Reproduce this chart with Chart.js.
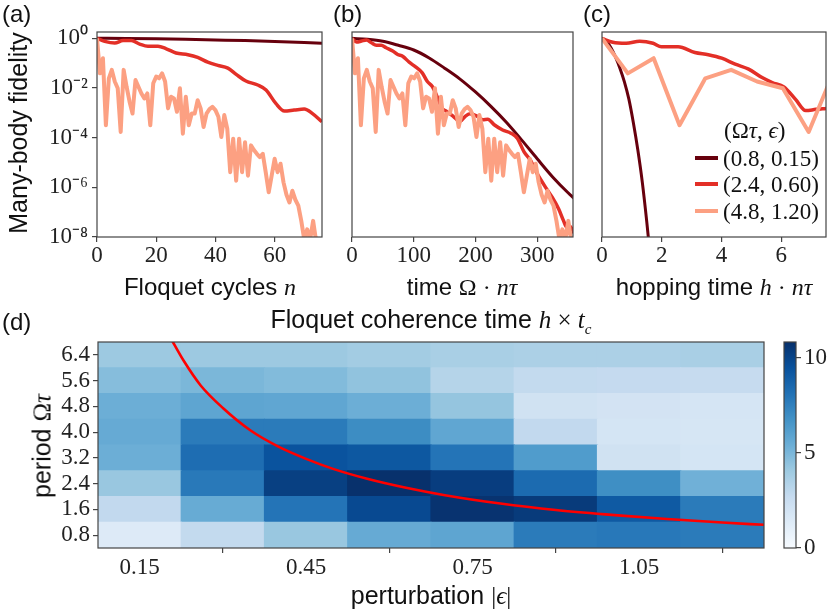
<!DOCTYPE html>
<html>
<head>
<meta charset="utf-8">
<script src="https://cdn.jsdelivr.net/npm/chart.js@4.4.0/dist/chart.umd.min.js"></script>
<style>
  body { margin: 0; background: #fff; }
  #fig { position: relative; width: 830px; height: 612px; overflow: hidden;
         font-family: "Liberation Sans", Arial, sans-serif; color: #111; }
  canvas { position: absolute; }
  .t { position: absolute; white-space: nowrap; font-size: 24px; line-height: 1;
       transform: translate(-50%, -50%); }
  .big { font-size: 25px; }
  .rot { transform: translate(-50%, -50%) rotate(-90deg); }
  .m { font-family: "Liberation Serif", serif; font-style: italic; }
  .u { font-family: "Liberation Serif", serif; }
  .lab { position: absolute; font-size: 24px; line-height: 1; }
  .leg { position: absolute; font-family: "Liberation Serif", serif; font-size: 23px;
         line-height: 1; white-space: nowrap; transform: translateY(-50%); }
  .sw { position: absolute; width: 23px; height: 4px; transform: translateY(-50%); }
</style>
</head>
<body>
<div id="fig">
  <canvas id="pa" width="330" height="275" style="left:0;top:0"></canvas>
  <canvas id="pb" width="240" height="275" style="left:340px;top:0"></canvas>
  <canvas id="pc" width="240" height="275" style="left:590px;top:0"></canvas>
  <canvas id="pd" width="780" height="312" style="left:0;top:300px"></canvas>
  <canvas id="cb" width="60" height="312" style="left:770px;top:300px"></canvas>

  <div class="lab" style="left:2px;top:2px">(a)</div>
  <div class="lab" style="left:333px;top:2px">(b)</div>
  <div class="lab" style="left:583px;top:2px">(c)</div>
  <div class="lab" style="left:2px;top:310px">(d)</div>

  <div class="t rot" style="left:18px;top:133px;font-size:25px">Many-body fidelity</div>
  <div class="t" style="left:210px;top:287px">Floquet cycles <span class="m">n</span></div>
  <div class="t" style="left:462px;top:287px">time <span class="u">Ω · </span><span class="m">nτ</span></div>
  <div class="t" style="left:714px;top:287px">hopping time <span class="m">h</span><span class="u"> · </span><span class="m">nτ</span></div>

  <div class="t big" style="left:431px;top:322px">Floquet coherence time <span class="m">h</span><span class="u"> × </span><span class="m">t<sub style="font-size:15px">c</sub></span></div>
  <div class="t big" style="left:431px;top:595px">perturbation <span class="u">|</span><span class="m">ϵ</span><span class="u">|</span></div>
  <div class="t big rot" style="left:42px;top:446px">period <span class="u">Ω</span><span class="m">τ</span></div>

  <div class="leg" style="left:724px;top:130px">(Ω<span class="m">τ</span>, <span class="m">ϵ</span>)</div>
  <div class="sw" style="left:695px;top:158px;background:#67000d"></div>
  <div class="leg" style="left:723px;top:158px">(0.8, 0.15)</div>
  <div class="sw" style="left:695px;top:184px;background:#e32f27"></div>
  <div class="leg" style="left:723px;top:184px">(2.4, 0.60)</div>
  <div class="sw" style="left:695px;top:211px;background:#fca082"></div>
  <div class="leg" style="left:723px;top:211px">(4.8, 1.20)</div>
</div>
<script>
// ---- panel data (log10 of the many-body fidelity) ----
const cycles = [];
for (let n = 0; n <= 75; n++) cycles.push(n);
// (4.8, 1.20): one value per Floquet cycle, same data in (a), (b), (c)
const pinkLog = [0, -1.41, -0.80, -3.50, -1.61, -1.27, -1.74, -2.01, -3.77, -1.27,
  -1.95, -2.55, -3.03, -1.68, -1.95, -2.22, -2.42, -2.22, -3.50, -1.81,
  -1.54, -1.61, -1.41, -1.74, -2.82, -2.35, -2.42, -2.96, -2.01, -3.84,
  -2.35, -3.50, -3.03, -3.03, -2.49, -2.82, -3.57, -3.03, -2.85, -2.76,
  -2.89, -3.16, -3.97, -3.09, -3.64, -5.39, -4.04, -5.73, -4.04, -5.39,
  -4.18, -5.53, -4.31, -4.50, -4.65, -4.78, -4.65, -5.40, -6.20, -5.53,
  -4.85, -5.39, -5.05, -5.80, -6.30, -6.61, -6.14, -6.50, -6.74, -7.35,
  -8.10, -7.69, -8.10, -7.35, -8.16, -8.03];
const pinkTimePerCycle = 4.8;   // Omega tau
const pinkHopPerCycle = 0.865;  // h tau

// (a) vs Floquet cycles n
const darkA = [[0, 0], [10, -0.005], [20, -0.02], [30, -0.04], [40, -0.065], [50, -0.09], [60, -0.125], [70, -0.165], [76, -0.195]];
const redA = [[0, 0], [2.6, -0.12], [6, -0.19], [8.8, -0.09], [11.6, -0.09], [14.4, -0.23], [17.2, -0.32], [20.6, -0.32],
  [23.4, -0.42], [26.7, -0.59], [30.7, -0.66], [34, -0.77], [37.4, -0.96], [40.8, -1.09], [44.2, -1.20], [47, -1.45],
  [50.3, -1.72], [54.3, -1.88], [57.1, -2.08], [60.4, -2.62], [63.3, -2.93], [66.6, -2.89], [70, -2.85], [72.8, -3.03], [76, -3.36]];

// (b) vs time Omega n tau
const darkB = [[0, 0], [25, -0.04], [50, -0.12], [75, -0.28], [100, -0.47], [125, -0.79], [150, -1.2], [175, -1.64],
  [200, -2.16], [225, -2.74], [250, -3.38], [275, -4.1], [300, -4.85], [325, -5.58], [350, -6.22], [360, -6.45]];
const redB = [[0, 0], [7.4, -0.15], [15.4, -0.11], [23.4, -0.07], [31.4, -0.18], [39.4, -0.28], [47.3, -0.28], [55.3, -0.38],
  [66, -0.51], [74, -0.65], [82, -0.72], [92.6, -0.96], [103, -1.15], [113.8, -1.39], [121.8, -1.73], [129.8, -1.93],
  [137.8, -2.34], [145.7, -2.81], [153.7, -2.95], [164.4, -3.15], [175, -3.35], [183, -3.15], [190.9, -3.04], [201.6, -3.12],
  [212, -3.28], [220, -3.26], [230.9, -3.49], [244, -3.69], [257.4, -3.82], [268, -4.03], [278.7, -4.57], [289, -4.91],
  [300, -5.45], [313.3, -5.99], [324, -6.39], [334.6, -6.86], [342.6, -7.34], [348, -7.61], [353, -7.58], [360, -7.85]];

// (c) vs hopping time h n tau
const darkC = [[0, 0], [0.15, -0.12], [0.3, -0.38], [0.45, -0.75], [0.6, -1.2], [0.75, -1.75], [0.9, -2.45],
  [1.05, -3.4], [1.2, -4.5], [1.35, -5.8], [1.5, -7.4], [1.6, -8.6]];
const redC = [[0, 0], [0.36, -0.16], [0.81, -0.20], [1.26, -0.12], [1.71, -0.20], [1.99, -0.34], [2.55, -0.34],
  [3.11, -0.57], [3.56, -0.66], [4.01, -0.80], [4.46, -1.04], [4.91, -1.24], [5.36, -1.58], [5.70, -1.78],
  [6.09, -1.96], [6.48, -2.46], [6.82, -2.91], [7.16, -2.86], [7.5, -2.82]];

const decades = [1e-8, 1e-6, 1e-4, 1e-2, 1];
const supers = { '0': '⁰', '2': '²', '4': '⁴', '6': '⁶', '8': '⁸', '-': '⁻' };

// ---- panel (d) data ----
const epsilons = [0.15, 0.30, 0.45, 0.60, 0.75, 0.90, 1.05, 1.20];
const periods = [0.8, 1.6, 2.4, 3.2, 4.0, 4.8, 5.6, 6.4];
// h x t_c, one row per period (bottom row first)
const coherence = [
  [1.4, 2.8, 4.2, 5.6, 5.85, 7.7, 7.85, 7.7],
  [2.85, 5.55, 8.0, 9.8, 10.7, 10.4, 9.1, 7.7],
  [4.2, 7.8, 10.2, 10.8, 10.3, 8.4, 6.9, 5.3],
  [5.4, 8.3, 9.4, 9.2, 8.0, 6.3, 2.15, 1.9],
  [5.6, 7.7, 7.7, 7.0, 5.8, 2.85, 1.9, 1.8],
  [5.4, 5.85, 5.8, 5.4, 4.3, 2.15, 2.0, 1.85],
  [4.7, 5.0, 4.8, 4.4, 3.3, 2.8, 2.75, 2.7],
  [4.1, 4.1, 4.1, 3.9, 3.7, 3.6, 3.6, 3.7]
];
const cMax = 10.84;
const epsTicks = [0.15, 0.45, 0.75, 1.05];
const cbTicks = [0, 5, 10];
// red boundary curve
const curveEps = [0.205, 0.23, 0.26, 0.30, 0.35, 0.40, 0.45, 0.50, 0.56, 0.63, 0.70, 0.80, 0.90, 1.00, 1.10, 1.20, 1.275];
const curveOmega = [6.95, 6.2, 5.45, 4.75, 4.05, 3.55, 3.17, 2.85, 2.55, 2.27, 2.04, 1.78, 1.58, 1.43, 1.30, 1.19, 1.12];

const DARK = '#67000d', RED = '#e32f27', PINK = '#fca082', AXIS = '#444';
const bluesStops = ['#f7fbff', '#deebf7', '#c6dbef', '#9ecae1', '#6baed6', '#4292c6', '#2171b5', '#08519c', '#08306b'];

function hex(h) { return [1, 3, 5].map(i => parseInt(h.slice(i, i + 2), 16)); }
function blues(f) {
  f = Math.max(0, Math.min(1, f));
  const s = f * 8, i = Math.min(7, Math.floor(s)), t = s - i;
  const a = hex(bluesStops[i]), b = hex(bluesStops[i + 1]);
  const c = a.map((v, k) => Math.round(v + (b[k] - v) * t));
  return `rgb(${c[0]},${c[1]},${c[2]})`;
}

const frame = {
  id: 'frame',
  afterDatasetsDraw(chart) {
    const { ctx, chartArea: a } = chart;
    ctx.save();
    ctx.strokeStyle = AXIS;
    ctx.lineWidth = 1.2;
    ctx.strokeRect(a.left, a.top, a.right - a.left, a.bottom - a.top);
    ctx.restore();
  }
};

const tickFont = { family: 'Liberation Serif', size: 23 };
const tickGrid = { drawOnChartArea: false, drawTicks: true, tickLength: 5, color: AXIS, lineWidth: 1.2 };

function line(points, color, width, order, smooth) {
  return {
    data: points.map(([x, l]) => ({ x, y: Math.pow(10, l) })),
    borderColor: color, borderWidth: width, pointRadius: 0, clip: 0, order,
    borderJoinStyle: 'round', cubicInterpolationMode: smooth ? 'monotone' : 'default', tension: 0
  };
}

function panel(id, xMax, xTicks, datasets, yLabels, leftW, rightPad) {
  new Chart(document.getElementById(id), {
    type: 'line',
    data: { datasets },
    options: {
      responsive: false, animation: false, devicePixelRatio: 1,
      layout: { padding: { top: 32, right: rightPad, left: 0, bottom: 0 } },
      plugins: { legend: { display: false }, tooltip: { enabled: false } },
      scales: {
        x: {
          type: 'linear', min: 0, max: xMax,
          afterBuildTicks: s => { s.ticks = xTicks.map(v => ({ value: v })); },
          afterFit: s => { s.height = 38; },
          grid: tickGrid, border: { display: false },
          ticks: { font: tickFont, color: '#222', padding: 0, maxRotation: 0, autoSkip: false }
        },
        y: {
          type: 'logarithmic', min: 1e-8, max: 1.8,
          afterBuildTicks: s => { s.ticks = decades.map(v => ({ value: v })); },
          afterFit: s => { s.width = leftW; },
          grid: Object.assign({}, tickGrid, { drawTicks: yLabels }),
          border: { display: false },
          ticks: {
            display: yLabels, font: tickFont, color: '#222', padding: 4, autoSkip: false,
            callback: v => '10' + String(Math.round(Math.log10(v))).split('').map(ch => supers[ch]).join('')
          }
        }
      }
    },
    plugins: [frame]
  });
}

const pinkA = cycles.map((n, i) => [n, pinkLog[i]]);
const pinkB = cycles.map((n, i) => [n * pinkTimePerCycle, pinkLog[i]]);
const pinkC = cycles.map((n, i) => [n * pinkHopPerCycle, pinkLog[i]]).filter(p => p[0] < 9);

panel('pa', 76, [0, 20, 40, 60],
  [line(pinkA, PINK, 4, 1, false), line(redA, RED, 3.5, 2, true), line(darkA, DARK, 3, 3, true)], true, 97, 8);
panel('pb', 358, [0, 100, 200, 300],
  [line(pinkB, PINK, 4, 1, false), line(redB, RED, 3.5, 2, true), line(darkB, DARK, 3, 3, true)], false, 12, 7);
panel('pc', 7.5, [0, 2, 4, 6],
  [line(pinkC, PINK, 4, 1, false), line(redC, RED, 3.5, 2, true), line(darkC, DARK, 3, 3, true)], false, 12, 4);

// ---- heatmap ----
const heatSets = periods.map((p, r) => ({
  type: 'bar',
  data: epsilons.map((e, c) => ({ x: e, y: [p - 0.4, p + 0.4], v: coherence[r][c] })),
  backgroundColor: ctx => (ctx.raw ? blues(ctx.raw.v / cMax) : '#fff'),
  grouped: false, barPercentage: 1, categoryPercentage: 1, borderWidth: 0, inflateAmount: 0.6, order: 2
}));
heatSets.push({
  type: 'line',
  data: curveEps.map((e, i) => ({ x: e, y: curveOmega[i] })),
  borderColor: '#ff0000', borderWidth: 2.6, pointRadius: 0, clip: 0, order: 0,
  cubicInterpolationMode: 'monotone'
});

new Chart(document.getElementById('pd'), {
  type: 'bar',
  data: { datasets: heatSets },
  options: {
    responsive: false, animation: false, devicePixelRatio: 1,
    layout: { padding: { top: 42, right: 16, left: 0, bottom: 0 } },
    plugins: { legend: { display: false }, tooltip: { enabled: false } },
    scales: {
      x: {
        type: 'linear', min: 0.075, max: 1.275, offset: false,
        afterBuildTicks: s => { s.ticks = epsTicks.map(v => ({ value: v })); },
        afterFit: s => { s.height = 64; },
        grid: tickGrid, border: { display: false },
        ticks: { font: tickFont, color: '#222', padding: 1, maxRotation: 0, autoSkip: false, callback: v => v.toFixed(2) }
      },
      y: {
        type: 'linear', min: 0.4, max: 6.8,
        afterBuildTicks: s => { s.ticks = periods.map(v => ({ value: v })); },
        afterFit: s => { s.width = 98; },
        grid: tickGrid, border: { display: false },
        ticks: { font: tickFont, color: '#222', padding: 3, autoSkip: false, callback: v => v.toFixed(1) }
      }
    }
  },
  plugins: [frame]
});

// ---- colorbar ----
new Chart(document.getElementById('cb'), {
  type: 'bar',
  data: {
    labels: [''],
    datasets: [{
      data: [[0, cMax]],
      backgroundColor: ctx => {
        const a = ctx.chart.chartArea;
        if (!a) return blues(0.5);
        const g = ctx.chart.ctx.createLinearGradient(0, a.bottom, 0, a.top);
        bluesStops.forEach((c, i) => g.addColorStop(i / 8, c));
        return g;
      },
      barPercentage: 1, categoryPercentage: 1, borderWidth: 0
    }]
  },
  options: {
    responsive: false, animation: false, devicePixelRatio: 1,
    layout: { padding: { top: 42, right: 0, left: 14, bottom: 64 } },
    plugins: { legend: { display: false }, tooltip: { enabled: false } },
    scales: {
      x: { display: false },
      y: {
        position: 'right', min: 0, max: cMax,
        afterBuildTicks: s => { s.ticks = cbTicks.map(v => ({ value: v })); },
        afterFit: s => { s.width = 34; },
        grid: tickGrid, border: { display: false },
        ticks: { font: tickFont, color: '#222', padding: 3, autoSkip: false }
      }
    }
  },
  plugins: [frame]
});
</script>
</body>
</html>
